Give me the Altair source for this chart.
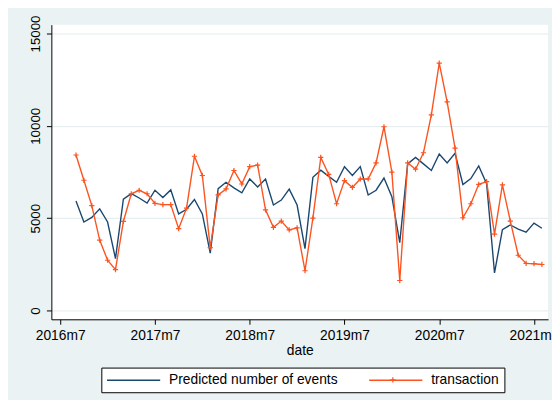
import altair as alt
import pandas as pd

# monthly dates, 2016m9 .. 2021m8
dates = [f"{y}-{m:02d}" for y in range(2016, 2022) for m in range(1, 13)]
dates = dates[dates.index("2016-09"):dates.index("2021-08") + 1]

transaction = [8420, 7050, 5680, 3810, 2720, 2210, 4820, 6320, 6510, 6320,
               5800, 5730, 5730, 4430, 5540, 8350, 7310, 3400, 6260, 6580,
               7580, 6850, 7790, 7870, 5450, 4500, 4840, 4360, 4470, 2150,
               5000, 8290, 7370, 5780, 7030, 6660, 7120, 7120, 7990, 9950,
               7490, 1620, 7990, 7650, 8540, 10590, 13400, 11300, 8790, 5020,
               5780, 6830, 6980, 4130, 6800, 4840, 2990, 2550, 2530, 2490]
predicted = [5930, 4790, 5040, 5500, 4790, 2810, 6030, 6330, 6090, 5820,
             6510, 6120, 6530, 5230, 5480, 6010, 5230, 3100, 6600, 6940,
             6640, 6370, 7120, 6690, 7120, 5710, 5980, 6570, 5710, 3350,
             7210, 7600, 7260, 6940, 7780, 7310, 7790, 6250, 6510, 7170,
             6160, 3670, 7940, 8290, 7940, 7580, 8470, 7990, 8510, 6820,
             7140, 7830, 6870, 2030, 4380, 4630, 4410, 4240, 4730, 4450]

series_names = ["Predicted number of events", "transaction"]
series_colors = ["#1a476f", "#fb5420"]
x_ticks = ["2016-07", "2017-07", "2018-07", "2019-07", "2020-07", "2021-07"]
y_ticks = [0, 5000, 10000, 15000]


def tm(s):
    y, m = s.split("-")
    return int(y) * 12 + int(m) - 1


rows = []
for name, vals in zip(series_names, [predicted, transaction]):
    for d, v in zip(dates, vals):
        rows.append({"t": tm(d), "series": name, "value": v})
df = pd.DataFrame(rows)

t0 = tm(x_ticks[0])
FONT = "Liberation Sans"
PLUS = "M-1,0H1M0,-1V1"
LEGLINE = "M-1,0H7"

x_enc = alt.X(
    "t:Q",
    scale=alt.Scale(domain=[t0 - 1.12, t0 + 61.78], nice=False, zero=False),
    axis=alt.Axis(
        values=[tm(s) for s in x_ticks],
        labelExpr="floor(datum.value/12) + 'm' + (datum.value % 12 + 1)",
        title="date",
        grid=False,
        tickSize=5,
        labelPadding=4,
        titlePadding=2,
        labelFontSize=14,
        titleFontSize=14,
        titleFontWeight="normal",
    ),
)
y_enc = alt.Y(
    "value:Q",
    scale=alt.Scale(domain=[-480, 15480], nice=False, zero=False),
    axis=alt.Axis(
        values=y_ticks,
        format="d",
        title=None,
        grid=True,
        gridColor="#e2ebed",
        gridWidth=1,
        tickSize=5,
        labelPadding=4,
        labelAngle=270,
        labelAlign="center",
        labelBaseline="bottom",
        labelFontSize=13.5,
    ),
)

lines = alt.Chart(df).mark_line(strokeWidth=1.4).encode(
    x=x_enc,
    y=y_enc,
    color=alt.Color(
        "series:N",
        scale=alt.Scale(domain=series_names, range=series_colors),
        legend=alt.Legend(
            orient="none",
            legendX=50.7,
            legendY=348,
            direction="horizontal",
            title=None,
            symbolType=LEGLINE,
            symbolSize=182,
            symbolStrokeWidth=1.5,
            symbolFillColor="transparent",
            labelFontSize=14,
            labelFont=FONT,
            labelColor="black",
            labelLimit=400,
            labelOffset=48.7,
            columnPadding=28,
            padding=5,
            strokeColor="black",
            fillColor="white",
            zindex=0,
        ),
    ),
    order="t:Q",
)

points = alt.Chart(df).transform_filter(
    alt.datum.series == "transaction"
).transform_calculate(
    mk="'transaction'"
).mark_point(
    size=28,
    filled=False,
    strokeWidth=1.2,
    color=series_colors[1],
    opacity=1,
).encode(
    x="t:Q",
    y="value:Q",
    shape=alt.Shape(
        "mk:N",
        scale=alt.Scale(domain=["transaction"], range=[PLUS]),
        legend=alt.Legend(
            orient="none",
            legendX=343,
            legendY=357,
            title=None,
            labelExpr="''",
            labelFontSize=5,
            labelOffset=0,
            padding=0,
            symbolSize=28,
            symbolStrokeWidth=1.2,
            symbolStrokeColor=series_colors[1],
            symbolFillColor="transparent",
            zindex=2,
        ),
    ),
)

chart = alt.layer(lines, points).resolve_legend(shape="independent").properties(
    width=504,
    height=299,
    background="#eaf2f3",
    padding={"left": 44, "top": 14, "right": 4, "bottom": 79},
    autosize=alt.AutoSizeParams(type="none"),
).configure_view(
    stroke=None, fill="white"
).configure_axis(
    domainColor="black",
    tickColor="black",
    labelColor="black",
    titleColor="black",
    labelFont=FONT,
    titleFont=FONT,
    domainWidth=1,
)

chart.save("out.html", embed_options={"renderer": "svg", "actions": False})
